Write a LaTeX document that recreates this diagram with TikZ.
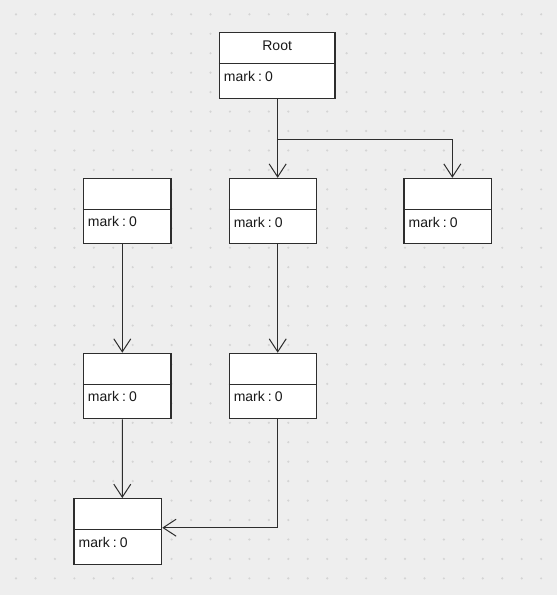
\documentclass[tikz,border=0pt]{standalone}
\usepackage{fontspec}
\setmainfont{Liberation Sans}
\usetikzlibrary{arrows.meta,calc}
\definecolor{bgc}{RGB}{238,238,238}
\definecolor{dotc}{RGB}{212,212,212}
\definecolor{linec}{RGB}{45,45,45}
\definecolor{txtc}{RGB}{25,25,25}
\tikzset{
  box/.style={draw=linec, fill=white, line width=1.1pt, minimum width=87.7pt, minimum height=65.5pt, inner sep=0pt},
  divider/.style={draw=linec, line width=1.1pt},
  conn/.style={draw=linec, line width=1.1pt, -{Straight Barb[length=13pt,width=17pt,line width=1pt]}},
  lbl/.style={font=\fontsize{14}{16}\selectfont, text=txtc, inner sep=0pt, anchor=base west},
  ttl/.style={font=\fontsize{14}{16}\selectfont, text=txtc, inner sep=0pt, anchor=base}
}
\begin{document}
\begin{tikzpicture}[x=1pt,y=-1pt]
\useasboundingbox (0,0) rectangle (557,595);
\fill[bgc] (0,0) rectangle (557,595);
\foreach \i in {0,...,27} \foreach \j in {0,...,29}
  \fill[dotc] ({16+19.45*\i},{14.3+19.45*\j}) circle (1.2pt);
% boxes
\node[box, minimum width=115.7pt, minimum height=66pt] (root) at (277.15,65.7) {};
\node[box] (A) at (273,211.1) {};
\node[box] (B) at (447.85,211.1) {};
\node[box] (C) at (127.15,211.0) {};
\node[box] (D) at (127.15,386) {};
\node[box] (E) at (273,386) {};
\node[box] (F) at (117.85,531.35) {};
% dividers
\foreach \n in {root,A,B,C,D,E,F}
  \draw[divider] ([yshift=-31.5pt]\n.north west) -- ([yshift=-31.5pt]\n.north east);
% texts
\node[ttl] (roott) at ($(root.north)+(0,18.2)$) {Root};
\foreach \n in {root,A,B,C,D,E,F}
  \node[lbl] (\n m) at ($(\n.north west)+(5,49.2)$) {mark\kern0.22em:\kern0.22em0};
% connectors
\coordinate (br) at ($(root.south)+(0.5,40.6)$);
\draw[conn] ([xshift=0.5pt]root.south) -- ([xshift=0.5pt]root.south |- A.north);
\draw[conn] (br) -| ([xshift=4.5pt]B.north);
\draw[conn] ([xshift=-4.85pt]C.south) -- ([xshift=-4.85pt]D.north);
\draw[conn] ([xshift=4.7pt]A.south) -- ([xshift=4.7pt]E.north);
\draw[conn] ([xshift=-4.85pt]D.south) -- ([xshift=4.45pt]F.north);
\draw[conn] ([xshift=4.7pt]E.south) |- ([yshift=3.65pt]F.east);
\end{tikzpicture}
\end{document}
